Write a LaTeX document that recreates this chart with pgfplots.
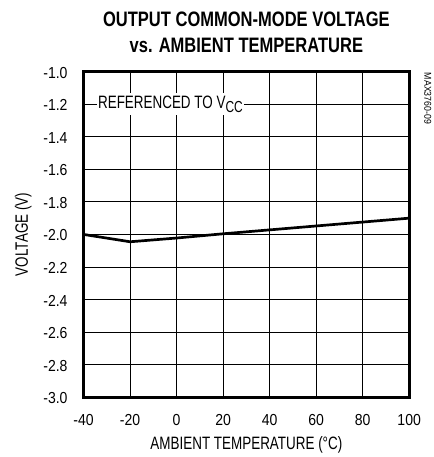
\documentclass[border=0pt]{standalone}
\usepackage{fontspec}
\setmainfont{Liberation Sans}[FakeStretch=0.75]
\newfontfamily\tickfont{Liberation Sans}[FakeStretch=0.88]
\newfontfamily\titlefont{Liberation Sans}[FakeStretch=0.79]
\usepackage{pgfplots}
\pgfplotsset{compat=1.18}
\begin{document}
\begin{tikzpicture}
\begin{axis}[
  scale only axis,
  width=327pt, height=327pt,
  xmin=-40, xmax=100, ymin=-3.0, ymax=-1.0,
  xtick={-40,-20,...,100},
  ytick={-3.0,-2.8,...,-1.0},
  yticklabel style={/pgf/number format/fixed, /pgf/number format/fixed zerofill, /pgf/number format/precision=1},
  /pgf/number format/assume math mode=true,
  ticklabel style={font=\tickfont\fontsize{16}{18}\selectfont},
  xticklabel style={anchor=base, yshift=-28pt},
  yticklabel style={anchor=east, inner xsep=0pt, xshift=-16pt, yshift=-1pt},
  major tick length=0pt,
  grid=major,
  grid style={black, line width=0.9pt},
  axis line style={line width=3pt},
  xlabel={AMBIENT TEMPERATURE (°C)},
  ylabel={VOLTAGE (V)},
  label style={font=\fontsize{18}{20}\selectfont},
  xlabel style={at={([yshift=-53pt]rel axis cs:0.5,0)}, anchor=base},
  ylabel style={at={([xshift=-56pt]rel axis cs:0,0.5)}, anchor=base},
  clip=false,
]
\addplot[black, line width=2.7pt] coordinates {
  (-40,-2.00) (-20,-2.045) (0,-2.022) (20,-1.996) (40,-1.972) (60,-1.948) (80,-1.924) (100,-1.90)
};
\node[fill=white, anchor=west, inner xsep=1.5pt, inner ysep=3pt, font=\fontsize{18}{20}\selectfont] at (axis cs:-34.5,-1.2) {REFERENCED TO V\raisebox{-3.5pt}{\fontsize{16}{18}\selectfont CC}};
\node[rotate=-90, anchor=south west, inner sep=0pt, font=\tickfont\fontsize{10}{12}\selectfont] at ([xshift=15pt,yshift=-1pt]rel axis cs:1,1) {MAX3760-09};
\node[anchor=base, font=\titlefont\bfseries\fontsize{21}{24}\selectfont] at ([yshift=45pt]rel axis cs:0.5,1) {OUTPUT COMMON-MODE VOLTAGE};
\node[anchor=base, font=\titlefont\bfseries\fontsize{21}{24}\selectfont] at ([yshift=19pt]rel axis cs:0.5,1) {vs. AMBIENT TEMPERATURE};
\end{axis}
\path (current axis.south west) ++(-84pt,-58pt) rectangle ++(435pt,457pt);
\end{tikzpicture}
\end{document}
